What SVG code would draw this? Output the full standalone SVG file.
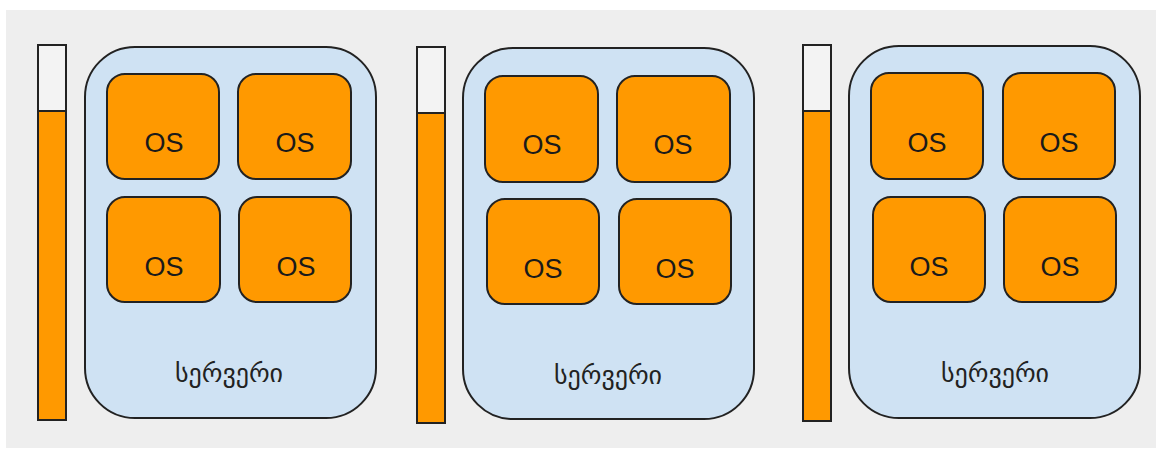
<svg xmlns="http://www.w3.org/2000/svg" width="1156" height="449" viewBox="0 0 1156 449">
  <style>
    .bg { fill: #eeeeee; }
    .gauge-empty { fill: #f3f3f3; stroke: #222; stroke-width: 2; }
    .gauge-fill { fill: #ff9900; stroke: #222; stroke-width: 2; }
    .server { fill: #cfe2f3; stroke: #222; stroke-width: 2; }
    .os { fill: #ff9900; stroke: #222; stroke-width: 2; }
    .os-label { font-family: "Liberation Sans", Arial, sans-serif; font-size: 27px; fill: #1a1a1a; text-anchor: middle; }
    .srv-label { font-family: "DejaVu Sans", "Noto Sans", sans-serif; font-size: 26px; fill: #222; text-anchor: middle; }
  </style>

  <rect class="bg" x="6" y="10" width="1150" height="438"/>

  <!-- server 1 -->
  <g id="gauge1">
    <rect class="gauge-empty" x="38" y="45" width="28" height="66"/>
    <rect class="gauge-fill" x="38" y="111" width="28" height="309"/>
  </g>
  <g id="server1">
    <rect class="server" x="85" y="47" width="291" height="371" rx="50" ry="50"/>
    <text class="srv-label" x="229" y="382">სერვერი</text>
  </g>
  <g id="os1a"><rect class="os" x="107" y="74" width="112" height="105" rx="18"/><text class="os-label" x="164" y="152">OS</text></g>
  <g id="os1b"><rect class="os" x="238" y="74" width="113" height="105" rx="18"/><text class="os-label" x="295" y="152">OS</text></g>
  <g id="os1c"><rect class="os" x="107" y="197" width="113" height="105" rx="18"/><text class="os-label" x="164" y="276">OS</text></g>
  <g id="os1d"><rect class="os" x="239" y="197" width="112" height="105" rx="18"/><text class="os-label" x="296" y="276">OS</text></g>

  <!-- server 2 -->
  <g id="gauge2">
    <rect class="gauge-empty" x="417" y="47" width="28" height="66"/>
    <rect class="gauge-fill" x="417" y="113" width="28" height="310"/>
  </g>
  <g id="server2">
    <rect class="server" x="463" y="48" width="291" height="371" rx="50" ry="50"/>
    <text class="srv-label" x="608" y="384">სერვერი</text>
  </g>
  <g id="os2a"><rect class="os" x="485" y="76" width="113" height="106" rx="18"/><text class="os-label" x="542" y="154">OS</text></g>
  <g id="os2b"><rect class="os" x="617" y="76" width="113" height="106" rx="18"/><text class="os-label" x="673" y="154">OS</text></g>
  <g id="os2c"><rect class="os" x="487" y="199" width="112" height="105" rx="18"/><text class="os-label" x="543" y="278">OS</text></g>
  <g id="os2d"><rect class="os" x="619" y="199" width="112" height="105" rx="18"/><text class="os-label" x="675" y="278">OS</text></g>

  <!-- server 3 -->
  <g id="gauge3">
    <rect class="gauge-empty" x="803" y="45" width="28" height="66"/>
    <rect class="gauge-fill" x="803" y="111" width="28" height="310"/>
  </g>
  <g id="server3">
    <rect class="server" x="849" y="46" width="291" height="372" rx="50" ry="50"/>
    <text class="srv-label" x="995" y="382">სერვერი</text>
  </g>
  <g id="os3a"><rect class="os" x="871" y="73" width="112" height="106" rx="18"/><text class="os-label" x="927" y="152">OS</text></g>
  <g id="os3b"><rect class="os" x="1003" y="73" width="112" height="106" rx="18"/><text class="os-label" x="1059" y="152">OS</text></g>
  <g id="os3c"><rect class="os" x="873" y="197" width="112" height="105" rx="18"/><text class="os-label" x="929" y="276">OS</text></g>
  <g id="os3d"><rect class="os" x="1004" y="197" width="112" height="105" rx="18"/><text class="os-label" x="1060" y="276">OS</text></g>

  <g id="connectors"/>
</svg>
